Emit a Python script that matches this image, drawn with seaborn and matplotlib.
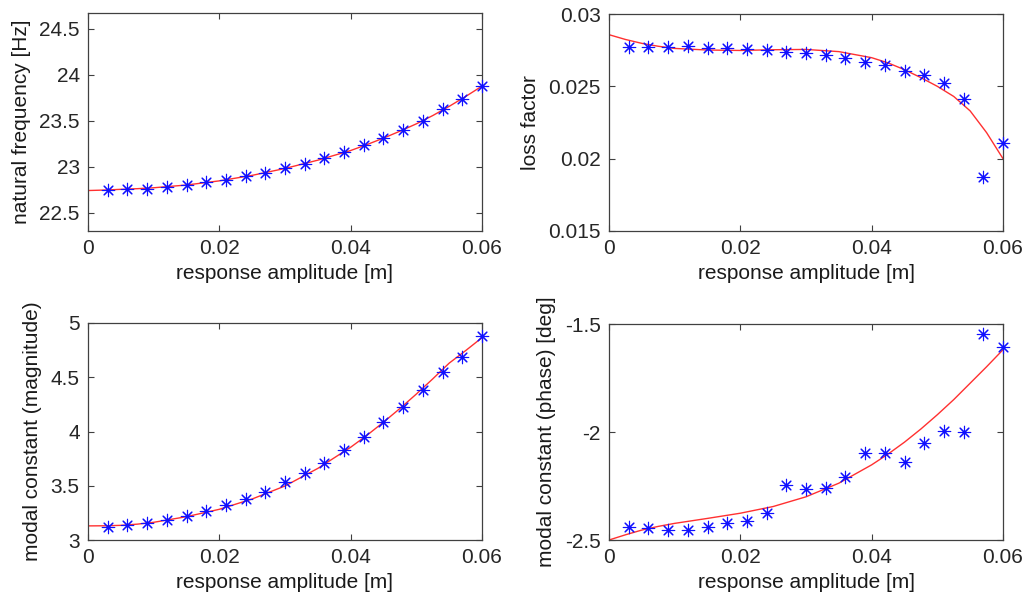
import matplotlib
matplotlib.use("Agg")
import matplotlib.pyplot as plt
import seaborn as sns
import pandas as pd
from matplotlib.ticker import FuncFormatter

# ---- data ----
amplitude = [0.003, 0.006, 0.009, 0.012, 0.015, 0.018, 0.021, 0.024, 0.027, 0.030,
             0.033, 0.036, 0.039, 0.042, 0.045, 0.048, 0.051, 0.054, 0.057, 0.060]

nat_freq = [22.746, 22.76, 22.76, 22.775, 22.80, 22.833, 22.858, 22.90, 22.927, 22.98,
            23.03, 23.09, 23.155, 23.23, 23.31, 23.40, 23.50, 23.625, 23.73, 23.88]
loss_factor = [0.02774, 0.02774, 0.02774, 0.02776, 0.02767, 0.02767, 0.0276, 0.02751, 0.0274, 0.02732,
               0.02714, 0.02695, 0.0267, 0.02645, 0.02608, 0.02575, 0.02522, 0.02412, 0.01872, 0.02105]
mc_mag = [3.123, 3.135, 3.16, 3.185, 3.22, 3.268, 3.32, 3.375, 3.446, 3.53,
          3.622, 3.71, 3.83, 3.948, 4.086, 4.225, 4.382, 4.55, 4.686, 4.877]
mc_phase = [-2.438, -2.444, -2.454, -2.454, -2.438, -2.42, -2.41, -2.373, -2.245, -2.265,
            -2.257, -2.21, -2.095, -2.095, -2.14, -2.049, -1.995, -2.001, -1.545, -1.608]

# fitted curves
fit_x = [0.0, 0.0025, 0.005, 0.0075, 0.01, 0.015, 0.02, 0.025, 0.03, 0.035, 0.04, 0.0425,
         0.045, 0.0475, 0.05, 0.0525, 0.055, 0.0575, 0.06]
fit_freq = [22.74, 22.745, 22.753, 22.76, 22.77, 22.80, 22.845, 22.905, 22.98, 23.07, 23.175, 23.24,
            23.31, 23.385, 23.465, 23.555, 23.655, 23.762, 23.875]
fit_loss = [0.02857, 0.02824, 0.02797, 0.02777, 0.02762, 0.02751, 0.02748, 0.02753, 0.02755, 0.0274, 0.02698, 0.02662,
            0.02615, 0.0256, 0.0250, 0.0243, 0.0233, 0.0218, 0.0200]
fit_mag = [3.13, 3.131, 3.135, 3.146, 3.163, 3.215, 3.283, 3.378, 3.498, 3.66, 3.855, 3.966,
           4.086, 4.212, 4.345, 4.485, 4.63, 4.745, 4.865]
fit_phase = [-2.5, -2.476, -2.454, -2.437, -2.423, -2.40, -2.376, -2.345, -2.30, -2.237, -2.152, -2.102,
             -2.047, -1.986, -1.92, -1.85, -1.774, -1.698, -1.619]

x_ticks = [0, 0.02, 0.04, 0.06]
panels = [
    ("natural frequency [Hz]", nat_freq, fit_freq, (22.3, 24.67), [22.5, 23, 23.5, 24, 24.5]),
    ("loss factor", loss_factor, fit_loss, (0.015, 0.03), [0.015, 0.02, 0.025, 0.03]),
    ("modal constant (magnitude)", mc_mag, fit_mag, (3.0, 5.0), [3, 3.5, 4, 4.5, 5]),
    ("modal constant (phase) [deg]", mc_phase, fit_phase, (-2.5, -1.5), [-2.5, -2, -1.5]),
]
x_label = "response amplitude [m]"

# ---- style ----
sns.set_theme(style="white")
plt.rcParams["font.family"] = ["Liberation Sans", "DejaVu Sans"]
plt.rcParams["axes.unicode_minus"] = False

W, H = 1031, 607
fig = plt.figure(figsize=(W / 100, H / 100), dpi=100)
boxes = [(88, 13, 482, 231), (609, 14, 1003, 231), (88, 323, 482, 540), (609, 324, 1003, 540)]

fmt = FuncFormatter(lambda v, p: "%g" % round(v, 6))

for (ylab, pts, fit, ylim, yticks), (l, t, r, b) in zip(panels, boxes):
    ax = fig.add_axes([l / W, 1 - b / H, (r - l) / W, (b - t) / H])
    df_pts = pd.DataFrame({"x": amplitude, "y": pts})
    df_fit = pd.DataFrame({"x": fit_x, "y": fit})
    sns.lineplot(data=df_fit, x="x", y="y", ax=ax, color="#ff3030", linewidth=1.0)
    sns.scatterplot(data=df_pts, x="x", y="y", ax=ax, marker=(8, 2, 0), s=80,
                    color="#1010ff", linewidth=0.8, edgecolor="#1010ff", zorder=3, clip_on=False)
    ax.set_xlim(0, 0.06)
    ax.set_ylim(*ylim)
    ax.set_xticks(x_ticks)
    ax.set_yticks(yticks)
    ax.xaxis.set_major_formatter(fmt)
    ax.yaxis.set_major_formatter(fmt)
    ax.set_xlabel(x_label, fontsize=15, color="#1a1a1a", labelpad=4)
    ax.set_ylabel(ylab, fontsize=15, color="#1a1a1a", labelpad=6)
    ax.tick_params(axis="both", which="major", direction="in", length=4, width=0.8,
                   colors="#404040", labelsize=15, labelcolor="#262626",
                   top=True, right=True, bottom=True, left=True, pad=6)
    for sp in ax.spines.values():
        sp.set_visible(True)
        sp.set_color("#404040")
        sp.set_linewidth(0.9)

fig.savefig("out.png", dpi=100)
